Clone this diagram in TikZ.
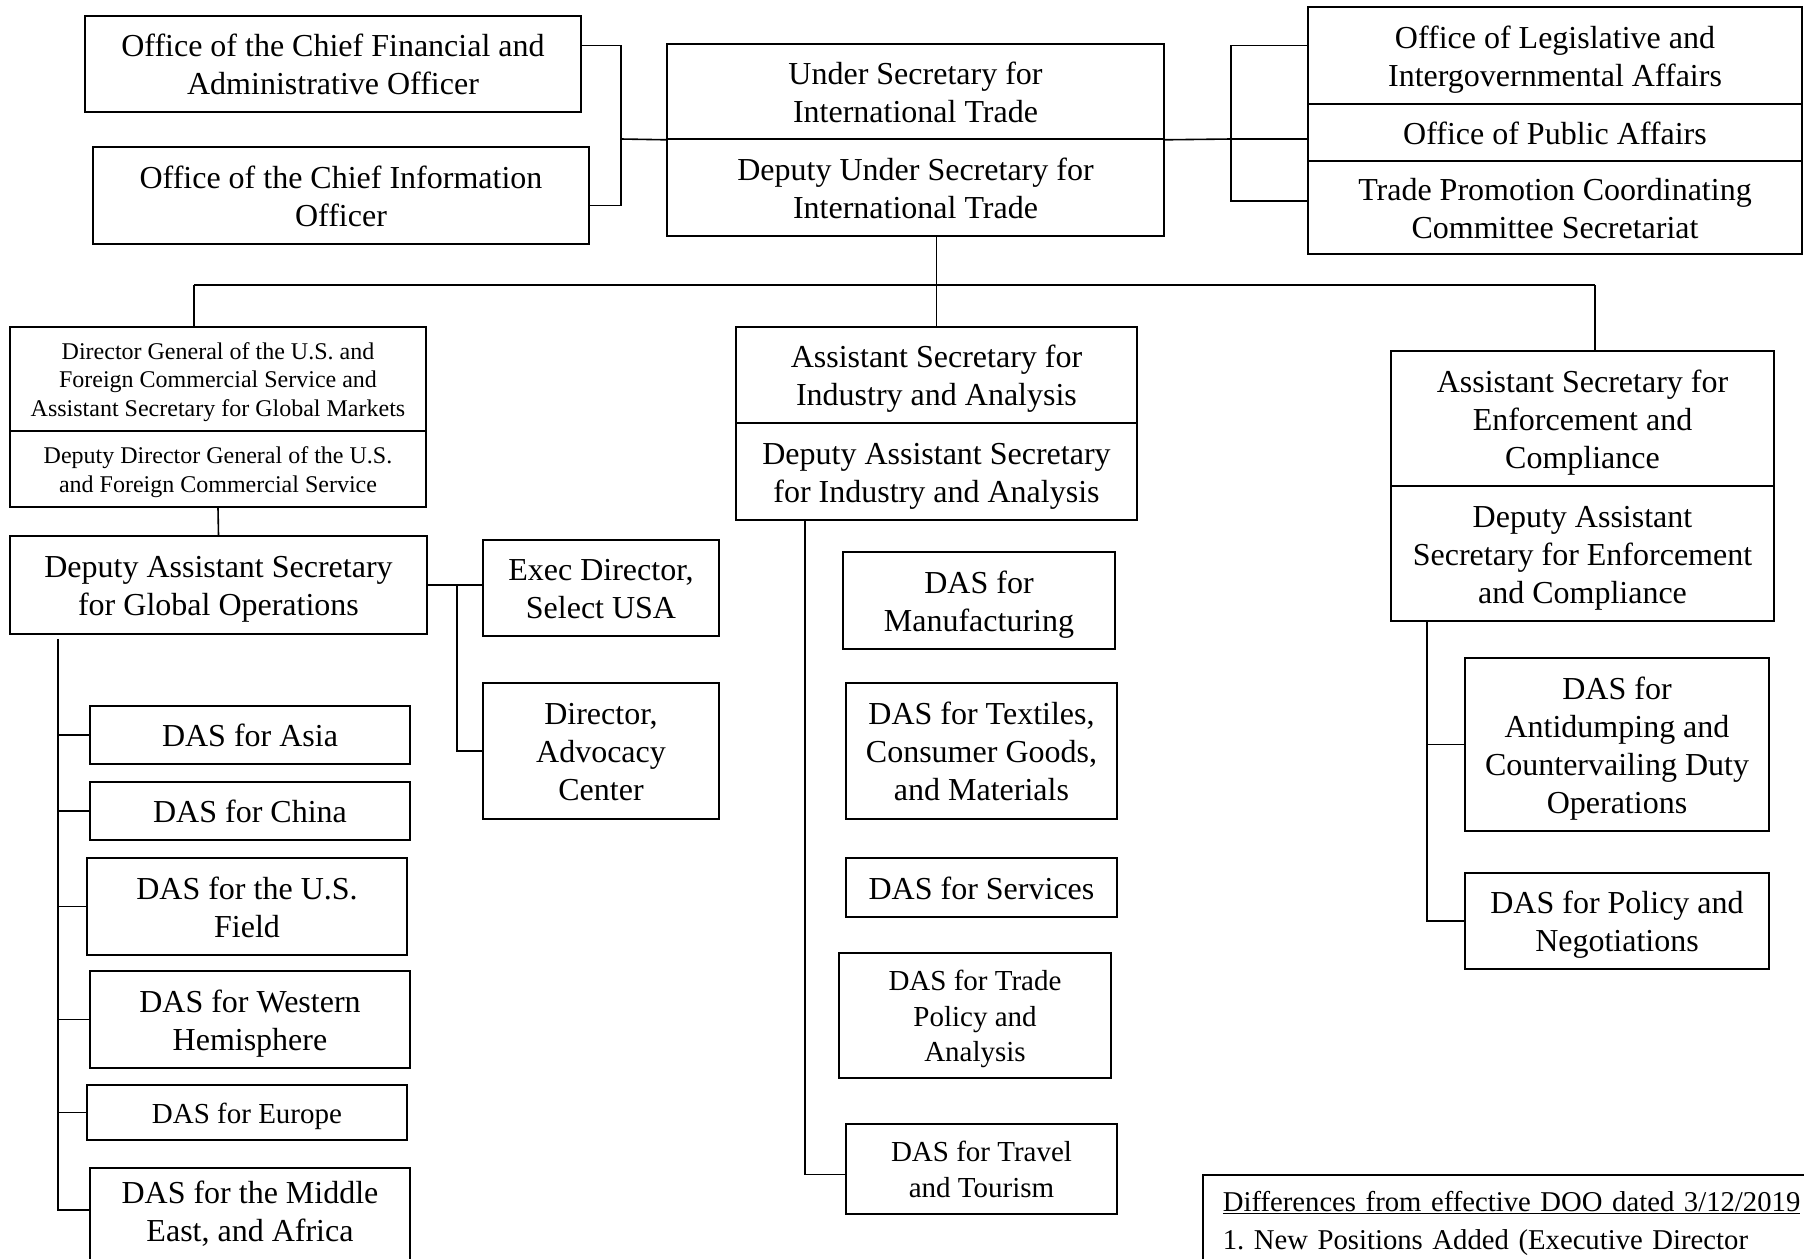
\documentclass[tikz,border=0pt]{standalone}
\usepackage{fontspec}
\setmainfont{Liberation Serif}
\usetikzlibrary{calc}
\newcommand\fsL{\fontsize{32}{38}\selectfont}
\newcommand\fsM{\fontsize{29}{35.5}\selectfont}
\newcommand\fsS{\fontsize{24}{28.8}\selectfont}
\newcommand\fsN{\fontsize{28.7}{38}\selectfont}
\newcommand\sa{\rule[-0.216em]{0pt}{1.166em}}
\tikzset{
  box/.style={draw, line width=1.6pt, rectangle, inner sep=0pt, align=center, font=\fsL},
  ln/.style={line width=1.6pt},
}
\begin{document}
\frenchspacing
\begin{tikzpicture}[x=1pt,y=-1pt]
\useasboundingbox (0,0) rectangle (1804,1258);
% top row
\node[box, minimum width=496pt, minimum height=96pt] (cfo) at (333,64) {\sa Office of the Chief Financial and\\Administrative Officer\sa};
\node[box, minimum width=496pt, minimum height=97pt] (cio) at (341,195.5) {\sa Office of the Chief Information\\Officer\sa};
\node[box, minimum width=497pt, minimum height=95pt] (ust) at (915.5,91.5) {\sa Under Secretary for\\International Trade\sa};
\node[box, minimum width=497pt, minimum height=97pt] (usb) at (915.5,187.5) {\sa Deputy Under Secretary for\\International Trade\sa};
\node[box, minimum width=494pt, minimum height=97pt] (ola) at (1555,55.5) {\sa Office of Legislative and\\Intergovernmental Affairs\sa};
\node[box, minimum width=494pt, minimum height=57pt] (opa) at (1555,132.5) {\sa Office of Public Affairs\sa};
\node[box, minimum width=494pt, minimum height=93pt] (tpcc) at (1555,207.5) {\sa Trade Promotion Coordinating\\Committee Secretariat\sa};
% left branch
\node[box, font=\fsS, minimum width=416pt, minimum height=104pt] (dg1) at (218,379) {\sa Director General of the U.S. and\\Foreign Commercial Service and\\Assistant Secretary for Global Markets\sa};
\node[box, font=\fsS, minimum width=416pt, minimum height=76pt] (dg2) at (218,469) {\sa Deputy Director General of the U.S.\\and Foreign Commercial Service\sa};
\node[box, minimum width=417pt, minimum height=98pt] (dasgo) at (218.5,585) {\sa Deputy Assistant Secretary\\for Global Operations\sa};
\node[box, minimum width=236pt, minimum height=96pt] (exec) at (601,588) {\sa Exec Director,\\Select USA\sa};
\node[box, minimum width=236pt, minimum height=136pt] (adv) at (601,751) {\sa Director,\\Advocacy\\Center\sa};
\node[box, minimum width=320pt, minimum height=58pt] (asia) at (250,735) {\sa DAS for Asia\sa};
\node[box, minimum width=320pt, minimum height=58pt] (china) at (250,811) {\sa DAS for China\sa};
\node[box, minimum width=320pt, minimum height=97pt] (field) at (247,906.5) {\sa DAS for the U.S.\\Field\sa};
\node[box, minimum width=320pt, minimum height=97pt] (wh) at (250,1019.5) {\sa DAS for Western\\Hemisphere\sa};
\node[box, font=\fsM, minimum width=320pt, minimum height=55pt] (europe) at (247,1112.5) {\sa DAS for Europe\sa};
\node[box, minimum width=320pt, minimum height=92pt] (me) at (250,1214) {\sa DAS for the Middle\\East, and Africa\rule[-14pt]{0pt}{1pt}};
% middle branch
\node[box, minimum width=401pt, minimum height=96pt] (ia1) at (936.5,375) {\sa Assistant Secretary for\\Industry and Analysis\sa};
\node[box, minimum width=401pt, minimum height=97pt] (ia2) at (936.5,471.5) {\sa Deputy Assistant Secretary\\for Industry and Analysis\sa};
\node[box, minimum width=272pt, minimum height=97pt] (mfg) at (979,600.5) {\sa DAS for\\Manufacturing\sa};
\node[box, minimum width=271pt, minimum height=136pt] (tex) at (981.5,751) {\sa DAS for Textiles,\\Consumer Goods,\\and Materials\sa};
\node[box, minimum width=271pt, minimum height=59pt] (svc) at (981.5,887.5) {\sa DAS for Services\sa};
\node[box, font=\fsM, minimum width=272pt, minimum height=125pt] (trade) at (975,1015.5) {\sa DAS for Trade\\Policy and\\Analysis\sa};
\node[box, font=\fsM, minimum width=271pt, minimum height=90pt] (travel) at (981.5,1169) {\sa DAS for Travel\\and Tourism\sa};
% right branch
\node[box, minimum width=383pt, minimum height=135pt] (ec1) at (1582.5,418.5) {\sa Assistant Secretary for\\Enforcement and\\Compliance\sa};
\node[box, minimum width=383pt, minimum height=135pt] (ec2) at (1582.5,553.5) {\sa Deputy Assistant\\Secretary for Enforcement\\and Compliance\sa};
\node[box, minimum width=304pt, minimum height=173pt] (ad) at (1617,744.5) {\sa DAS for\\Antidumping and\\Countervailing Duty\\Operations\sa};
\node[box, minimum width=304pt, minimum height=96pt] (pn) at (1617,921) {\sa DAS for Policy and\\Negotiations\sa};
% note
\node[draw, line width=1.6pt, anchor=north west, inner xsep=20pt, inner ysep=16pt, text width=620pt, align=left, font=\fsN, text depth=90pt] (note) at (1202,1174) {\underline{Differences from effective DOO dated 3/12/2019}\\1. New Positions Added (Executive Director};

% coordinates
\coordinate (jL) at (621,139);
\coordinate (jR) at (1231,139);
\coordinate (hL) at (194,285);
\coordinate (hR) at (1595,285);
\coordinate (jA) at (457,585);
\coordinate (lcx) at (58,0);
\coordinate (mcx) at (805,0);
\coordinate (rcx) at (1427,0);

% top connectors
\draw[ln] ($(cfo.north east)!0.31!(cfo.south east)$) -| (jL) |- ($(cio.north east)!0.6!(cio.south east)$);
\draw[ln] (jL) -- (ust.south west);
\draw[ln] (ust.south east) -- (jR) -- (jR -| opa.west);
\draw[ln] ($(ola.north west)!0.40!(ola.south west)$) -| (jR) |- ($(tpcc.north west)!0.43!(tpcc.south west)$);
\draw[ln] (usb.south -| ia1.north) -- (ia1.north);
\draw[ln] (hL) -- (hR);
\draw[ln] (hL) -- (hL |- dg1.north);
\draw[ln] (hR) -- (hR |- ec1.north);

% left branch connectors
\draw[ln] (dg2.south) -- (dasgo.north);
\draw[ln] (dasgo.east) -- (dasgo.east -| exec.west);
\draw[ln] (jA) |- (adv.west);
\draw[ln] ($(dasgo.south -| lcx)+(0,4)$) |- ($(me.north west)!0.46!(me.south west)$);
\foreach \b in {asia,china,field,wh,europe}{
  \draw[ln] (\b.west -| lcx) -- (\b.west);
}

% middle branch connectors
\draw[ln] (ia2.south -| mcx) |- ($(travel.north west)!0.56!(travel.south west)$);
\draw[ln] ($(mfg.north west)!0.39!(mfg.south west)$ -| mcx) -- ($(mfg.north west)!0.39!(mfg.south west)$);
\draw[ln] ($(tex.north west)!0.38!(tex.south west)$ -| mcx) -- ($(tex.north west)!0.38!(tex.south west)$);
\draw[ln] ($(svc.north west)!0.43!(svc.south west)$ -| mcx) -- ($(svc.north west)!0.43!(svc.south west)$);
\draw[ln] ($(trade.north west)!0.75!(trade.south west)$ -| mcx) -- ($(trade.north west)!0.75!(trade.south west)$);

% right branch connectors
\draw[ln] (ec2.south -| rcx) |- (pn.west);
\draw[ln] (ad.west -| rcx) -- (ad.west);
\end{tikzpicture}
\end{document}
